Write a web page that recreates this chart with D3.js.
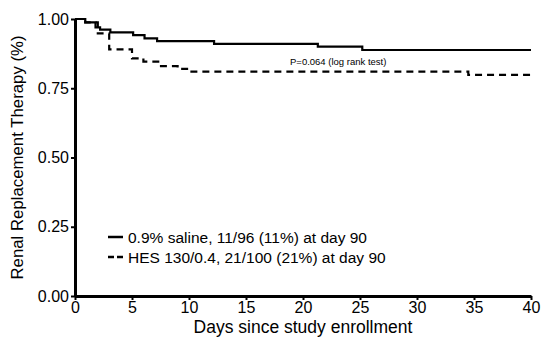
<!DOCTYPE html>
<html><head><meta charset="utf-8">
<script src="https://cdn.jsdelivr.net/npm/d3@7"></script>
<style>body{margin:0;background:#fff}svg{display:block}text{font-family:"Liberation Sans",Arial,sans-serif;fill:#000}</style>
</head><body>
<script>
const salineDays = [0, 0.9, 1.8, 2.2, 3.1, 5.1, 6.1, 7.2, 12.2, 21.3, 25.2, 40];
const salineSurv = [1, 0.988, 0.97, 0.962, 0.952, 0.942, 0.93, 0.92, 0.91, 0.90, 0.888, 0.888];
const hesDays = [0, 0.9, 2.0, 3.0, 5.0, 6.0, 7.3, 9.0, 10.1, 34.5, 40];
const hesSurv = [1, 0.988, 0.948, 0.89, 0.858, 0.846, 0.83, 0.82, 0.81, 0.798, 0.798];
const xTicks = [0, 5, 10, 15, 20, 25, 30, 35, 40];
const yTicks = [0, 0.25, 0.5, 0.75, 1.0];
const legendLabels = ["0.9% saline, 11/96 (11%) at day 90", "HES 130/0.4, 21/100 (21%) at day 90"];
const pText = "P=0.064 (log rank test)";
const xTitle = "Days since study enrollment";
const yTitle = "Renal Replacement Therapy (%)";

const W = 545, H = 341;
const svg = d3.select("body").append("svg").attr("width", W).attr("height", H);
const x = d3.scaleLinear().domain([0, 40]).range([75, 531]);
const y = d3.scaleLinear().domain([0, 1]).range([296, 19]);

const line = d3.line().x(d => x(d[0])).y(d => y(d[1])).curve(d3.curveStepAfter);
const salinePts = salineDays.map((d, i) => [d, salineSurv[i]]);
const hesPts = hesDays.map((d, i) => [d, hesSurv[i]]);

svg.append("path").attr("d", line(salinePts)).attr("fill", "none").attr("stroke", "#000").attr("stroke-width", 2.2);
svg.append("path").attr("d", line(hesPts)).attr("fill", "none").attr("stroke", "#000").attr("stroke-width", 2.2).attr("stroke-dasharray", "7,5");

// axes
const xAxis = svg.append("g").attr("transform", `translate(0,${y(0)})`)
  .call(d3.axisBottom(x).tickValues(xTicks).tickFormat(d3.format("d")).tickSize(4).tickSizeOuter(0));
const yAxis = svg.append("g").attr("transform", `translate(${x(0)},0)`)
  .call(d3.axisLeft(y).tickValues(yTicks).tickFormat(d3.format(".2f")).tickSize(4).tickSizeOuter(0));
[xAxis, yAxis].forEach(g => {
  g.select(".domain").attr("stroke", "#000").attr("stroke-width", 3);
  g.selectAll(".tick line").attr("stroke", "#000").attr("stroke-width", 2);
  g.selectAll(".tick text").attr("font-size", 16).attr("font-family", "Liberation Sans, Arial, sans-serif");
});
xAxis.selectAll(".tick text").attr("dy", "0.71em").attr("y", 6);
yAxis.selectAll(".tick text").attr("x", -6);

svg.append("text").attr("x", (x(0) + x(40)) / 2).attr("y", 333).attr("text-anchor", "middle").attr("font-size", 17.5).text(xTitle);
svg.append("text").attr("transform", `translate(23,${(y(0) + y(1)) / 2}) rotate(-90)`).attr("text-anchor", "middle").attr("font-size", 16.8).text(yTitle);

svg.append("text").attr("x", 290).attr("y", 65).attr("font-size", 9.5).text(pText);

// legend
const legY = [237, 257];
svg.append("line").attr("x1", 108).attr("x2", 123).attr("y1", legY[0]).attr("y2", legY[0]).attr("stroke", "#000").attr("stroke-width", 2.5);
svg.append("line").attr("x1", 108).attr("x2", 123).attr("y1", legY[1]).attr("y2", legY[1]).attr("stroke", "#000").attr("stroke-width", 2.5).attr("stroke-dasharray", "6,3");
legendLabels.forEach((t, i) => {
  svg.append("text").attr("x", 128).attr("y", legY[i] + 6).attr("font-size", 15.5).text(t);
});
</script>
</body></html>
